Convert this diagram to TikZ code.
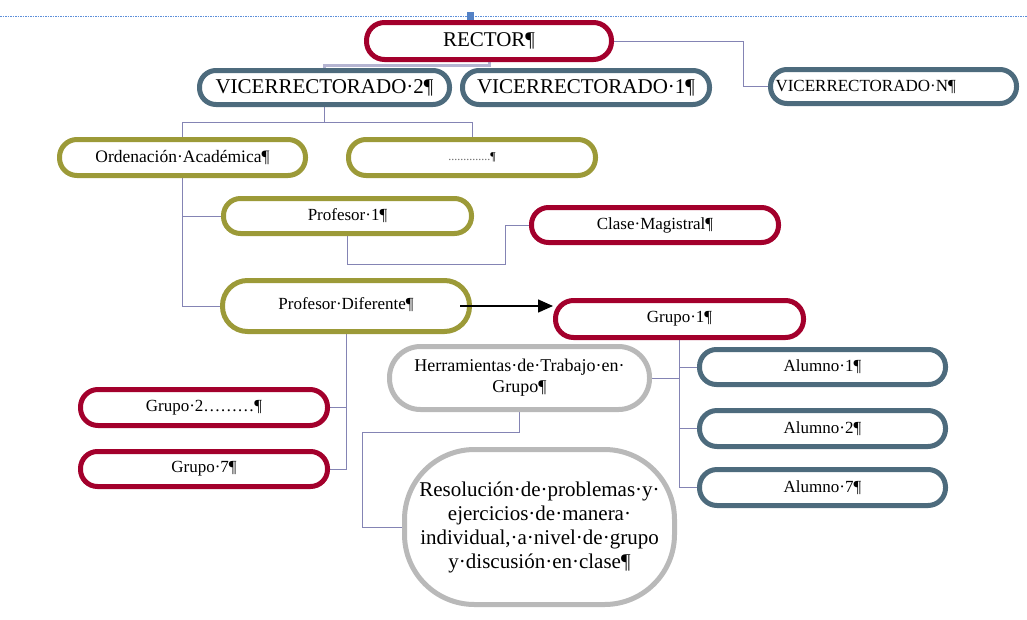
\documentclass[tikz,border=0pt]{standalone}
\usepackage{fontspec}
\setmainfont{Liberation Serif}
\usetikzlibrary{arrows.meta,backgrounds}
\definecolor{crim}{HTML}{A3002C}
\definecolor{slate}{HTML}{4D6B7D}
\definecolor{olive}{HTML}{9C9A38}
\definecolor{lgray}{HTML}{B9B9B9}
\definecolor{conn}{HTML}{8484B4}
\definecolor{guide}{HTML}{5C8FDB}
\tikzset{
  box/.style={draw, line width=5pt, fill=white, inner sep=0pt, align=center, text=black,
    font=\fontsize{17}{20}\selectfont},
  sz/.style n args={3}{minimum width=#1pt, minimum height=#2pt, rounded corners=#3pt},
  redbox/.style={box, draw=crim},
  slatebox/.style={box, draw=slate},
  olivebox/.style={box, draw=olive},
  graybox/.style={box, draw=lgray},
  connector/.style={draw=conn, line width=1pt},
  bigtxt/.style={font=\fontsize{21}{24}\selectfont},
}
\begin{document}
\begin{tikzpicture}[x=1pt, y=-1pt]
\useasboundingbox (0,0) rectangle (1027,619);
% top guide line
\draw[guide, dash pattern=on 1.5pt off 1pt, line width=1pt] (0,16) -- (1027,16);
\fill[guide!90!black] (467,12) rectangle (474,20);

% nodes
\node[redbox, sz={245}{37}{18}, bigtxt] (rector) at (489,41) {RECTOR¶};
\node[slatebox, sz={250}{34}{16.5}, bigtxt] (v2) at (324.5,87.5) {VICERRECTORADO·2¶};
\node[slatebox, sz={247}{34}{16.5}, bigtxt] (v1) at (586,87.5) {VICERRECTORADO·1¶};
\node[slatebox, sz={246}{34}{16.5}, font=\fontsize{17}{18}\selectfont, text width=236pt, align=left] (vN) at (893.5,86.5) {\raisebox{1pt}{VICERRECTORADO·N¶}};
\node[olivebox, sz={246}{36}{17.5}, font=\fontsize{17.5}{20}\selectfont] (ord) at (182.5,157.5) {Ordenación·Académica¶};
\node[olivebox, sz={247}{36}{17.5}, font=\fontsize{12}{14}\selectfont] (dots) at (472,157.5) {\textcolor{black!60}{..............}¶};
\node[olivebox, sz={248}{35}{17}] (p1) at (347.5,216) {Profesor·1¶};
\node[redbox, sz={247}{35}{17}] (clase) at (655,225) {Clase·Magistral¶};
\node[olivebox, sz={247}{51}{25}] (pdif) at (346,306) {\raisebox{5pt}{Profesor·Diferente¶}};
\node[redbox, sz={248}{37}{18}] (g1) at (679.5,319) {Grupo·1¶};
\node[graybox, sz={260}{63}{31}, font=\fontsize{18}{21}\selectfont] (herr) at (519.5,378) {Herramientas·de·Trabajo·en·\\Grupo¶};
\node[redbox, sz={247}{36}{17.5}] (g2) at (204,407.5) {Grupo·2………¶};
\node[redbox, sz={247}{35}{17}] (g7) at (204,469) {Grupo·7¶};
\node[graybox, sz={270}{155}{70}, font=\fontsize{21}{24}\selectfont] (res) at (539.5,527) {Resolución·de·problemas·y·\\ejercicios·de·manera·\\individual,·a·nivel·de·grupo\\y·discusión·en·clase¶};
\node[slatebox, sz={246}{35}{17}] (a1) at (822.5,367) {Alumno·1¶};
\node[slatebox, sz={246}{36}{17.5}] (a2) at (822.5,428.5) {Alumno·2¶};
\node[slatebox, sz={246}{36}{17.5}] (a7) at (822.5,487.5) {Alumno·7¶};

% junction coordinates
\coordinate (jr) at (743,41);
\coordinate (jv) at (324.5,122);
\coordinate (jp) at (505,264);
\coordinate (jh) at (362,432);

% connectors (behind boxes)
\begin{scope}[on background layer]
\draw[draw=conn!60, line width=3pt] (rector.south) -- ++(0,3) -| (v2.north);
\draw[connector] (rector.east) -- (jr) |- (vN.west);
\draw[connector] (v2.south) -- (jv) -| (ord.north);
\draw[connector] (jv) -| (dots.north);
\draw[connector] (ord.south) |- (p1.west);
\draw[connector] (ord.south) |- (pdif.west);
\draw[connector] (p1.south) |- (jp) |- (clase.west);
\draw[connector] (pdif.south) |- (g2.east);
\draw[connector] (pdif.south) |- (g7.east);
\draw[connector] (herr.south) |- (jh) |- (res.west);
\draw[connector] (herr.east) -- (g1.south |- herr.east);
\draw[connector] (g1.south) |- (a1.west);
\draw[connector] (g1.south) |- (a2.west);
\draw[connector] (g1.south) |- (a7.west);
\end{scope}
% arrow
\draw[black, line width=1.5pt, -{Triangle[length=15pt,width=13pt]}] ([xshift=-12pt]pdif.east) -- (g1.west |- pdif.east);
\end{tikzpicture}
\end{document}
